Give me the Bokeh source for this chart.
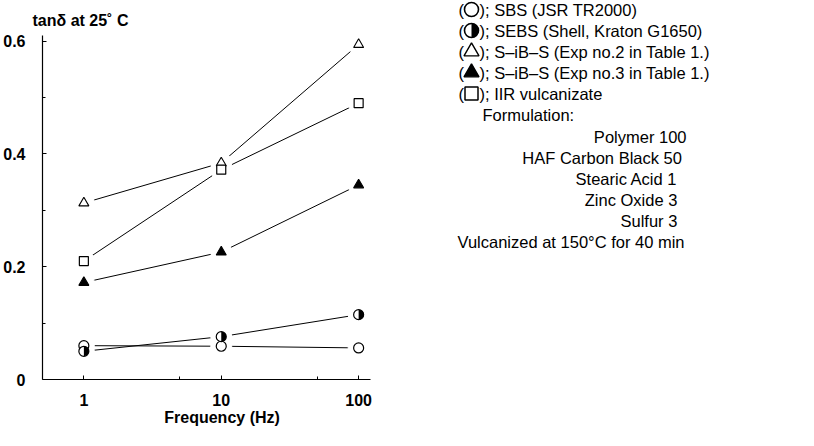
import math
from bokeh.plotting import figure
from bokeh.layouts import row
from bokeh.models import Range1d, FixedTicker
from bokeh.core.properties import value
from bokeh.embed import file_html
from bokeh.resources import INLINE

# ---- data ----
freq = [1, 10, 100]
sbs = [0.060, 0.059, 0.056]
sebs = [0.050, 0.076, 0.115]
sib2 = [0.313, 0.384, 0.594]
sib3 = [0.172, 0.226, 0.345]
iir = [0.210, 0.372, 0.490]

y_ticks = [0, 0.2, 0.4, 0.6]
y_tick_labels = ["0", "0.2", "0.4", "0.6"]
x_ticks = [1, 10, 100]
x_tick_labels = ["1", "10", "100"]

legend_texts = [
    "); SBS (JSR TR2000)",
    "); SEBS (Shell, Kraton G1650)",
    "); S\u2013iB\u2013S (Exp no.2 in Table 1.)",
    "); S\u2013iB\u2013S (Exp no.3 in Table 1.)",
    "); IIR vulcanizate",
]
formulation_title = "Formulation:"
formulation_items = ["Polymer 100", "HAF Carbon Black  50", "Stearic Acid   1",
                     "Zinc Oxide   3", "Sulfur   3"]
vulc_note = "Vulcanized at 150\u00B0C for 40 min"
y_caption = "tan\u03B4 at 25\u02DA C"
x_caption = "Frequency (Hz)"

FONT = "Liberation Sans"


def no_align(fig):
    try:
        fig.frame_align = False
    except Exception:
        pass


# ---- main plot ----
p = figure(width=380, height=430, x_axis_type="log",
           x_range=Range1d(0.5, 122), y_range=Range1d(0, 0.61),
           output_backend="svg", toolbar_location=None,
           min_border_left=36, min_border_right=10,
           min_border_top=35, min_border_bottom=51,
           title=y_caption)
no_align(p)
p.outline_line_color = None
p.xgrid.visible = False
p.ygrid.visible = False
p.title.text_font = FONT
p.title.text_font_size = "16px"
p.title.text_font_style = "bold"
p.title.text_color = "black"
p.title.offset = -10
p.title.standoff = 14

for ax in (p.xaxis[0], p.yaxis[0]):
    ax.axis_line_color = "black"
    ax.axis_line_width = 1.2
    ax.major_tick_in = 4
    ax.major_tick_out = 0
    ax.minor_tick_in = 3
    ax.minor_tick_out = 0
    ax.major_label_text_font = FONT
    ax.major_label_text_font_size = "16px"
    ax.major_label_text_font_style = "bold"
    ax.major_label_text_color = "black"

p.yaxis[0].major_label_standoff = 17
p.xaxis[0].major_label_standoff = 14
p.yaxis[0].ticker = FixedTicker(ticks=y_ticks, minor_ticks=[0.1, 0.3, 0.5])
p.yaxis[0].major_label_overrides = dict(zip(y_ticks, y_tick_labels))
p.xaxis[0].ticker = FixedTicker(ticks=x_ticks, minor_ticks=[5, 50])
p.xaxis[0].major_label_overrides = dict(zip(x_ticks, x_tick_labels))
p.xaxis[0].axis_label = "\u00A0" * 7 + x_caption
p.xaxis[0].axis_label_text_font = FONT
p.xaxis[0].axis_label_text_font_size = "16px"
p.xaxis[0].axis_label_text_font_style = "bold"
p.xaxis[0].axis_label_text_color = "black"
p.xaxis[0].axis_label_standoff = 0

series = [sbs, sebs, sib2, sib3, iir]
for s in series:
    p.line(freq, s, line_color="black", line_width=1)
# white gaps around the markers
for s in series:
    p.scatter(freq, s, marker="circle", size=21, fill_color="white",
              line_color="white", line_width=1)

p.scatter(freq, sbs, marker="circle", size=10, fill_color="white",
          line_color="black", line_width=1.2)
p.scatter(freq, sebs, marker="circle", size=10, fill_color="white",
          line_color="black", line_width=1.2)
p.wedge(freq, sebs, radius=5, radius_units="screen",
        start_angle=-math.pi / 2, end_angle=math.pi / 2,
        fill_color="black", line_color=None)
p.scatter(freq, sib2, marker="triangle", size=10, fill_color="white",
          line_color="black", line_width=1.1)
p.scatter(freq, sib3, marker="triangle", size=10, fill_color="black",
          line_color="black", line_width=1.1)
p.scatter(freq, iir, marker="square", size=9, fill_color="white",
          line_color="black", line_width=1.2)

# ---- legend / notes panel (pixel coordinates, y downward) ----
QW, QH = 418, 430
q = figure(width=QW, height=QH, x_range=Range1d(0, QW),
           y_range=Range1d(QH, 0), output_backend="svg",
           toolbar_location=None, x_axis_location=None,
           y_axis_location=None, min_border=0)
no_align(q)
q.outline_line_color = None
q.xgrid.visible = False
q.ygrid.visible = False

FS = "16.5px"
LX, ROW0, ROWH = 78, 9, 21
n = len(legend_texts)
rows_y = [ROW0 + i * ROWH for i in range(n)]
sym_x = [LX + 13] * n

q.text(x=[LX] * n, y=rows_y, text=["("] * n, text_font=value(FONT),
       text_font_size=FS, text_baseline="middle", text_align="left",
       text_color="black")
q.text(x=[LX + 21] * n, y=rows_y, text=legend_texts, text_font=value(FONT),
       text_font_size=FS, text_baseline="middle", text_align="left",
       text_color="black")

# legend symbols drawn as glyphs
q.scatter(sym_x[0:1], rows_y[0:1], marker="circle", size=14,
          fill_color="white", line_color="black", line_width=1.6)
q.scatter(sym_x[1:2], rows_y[1:2], marker="circle", size=14,
          fill_color="white", line_color="black", line_width=1.6)
q.wedge(sym_x[1:2], rows_y[1:2], radius=7, radius_units="screen",
        start_angle=-math.pi / 2, end_angle=math.pi / 2,
        fill_color="black", line_color=None)
q.scatter(sym_x[2:3], rows_y[2:3], marker="triangle", size=15,
          fill_color="white", line_color="black", line_width=1.4)
q.scatter(sym_x[3:4], rows_y[3:4], marker="triangle", size=15,
          fill_color="black", line_color="black", line_width=1.4)
q.scatter(sym_x[4:5], rows_y[4:5], marker="square", size=13,
          fill_color="white", line_color="black", line_width=1.5)

q.text(x=[LX + 24], y=[ROW0 + n * ROWH], text=[formulation_title],
       text_font=value(FONT), text_font_size=FS, text_baseline="middle",
       text_align="left", text_color="black")
m = len(formulation_items)
form_y = [ROW0 + (n + 1) * ROWH + 1 + i * ROWH for i in range(m)]
q.text(x=[306] * m, y=form_y, text=formulation_items,
       text_font=value(FONT), text_font_size=FS, text_baseline="middle",
       text_align="right", text_color="black")
q.text(x=[LX - 1], y=[form_y[-1] + ROWH], text=[vulc_note],
       text_font=value(FONT), text_font_size=FS, text_baseline="middle",
       text_align="left", text_color="black")

layout = row(p, q)
open("out.html", "w").write(file_html(layout, INLINE))
